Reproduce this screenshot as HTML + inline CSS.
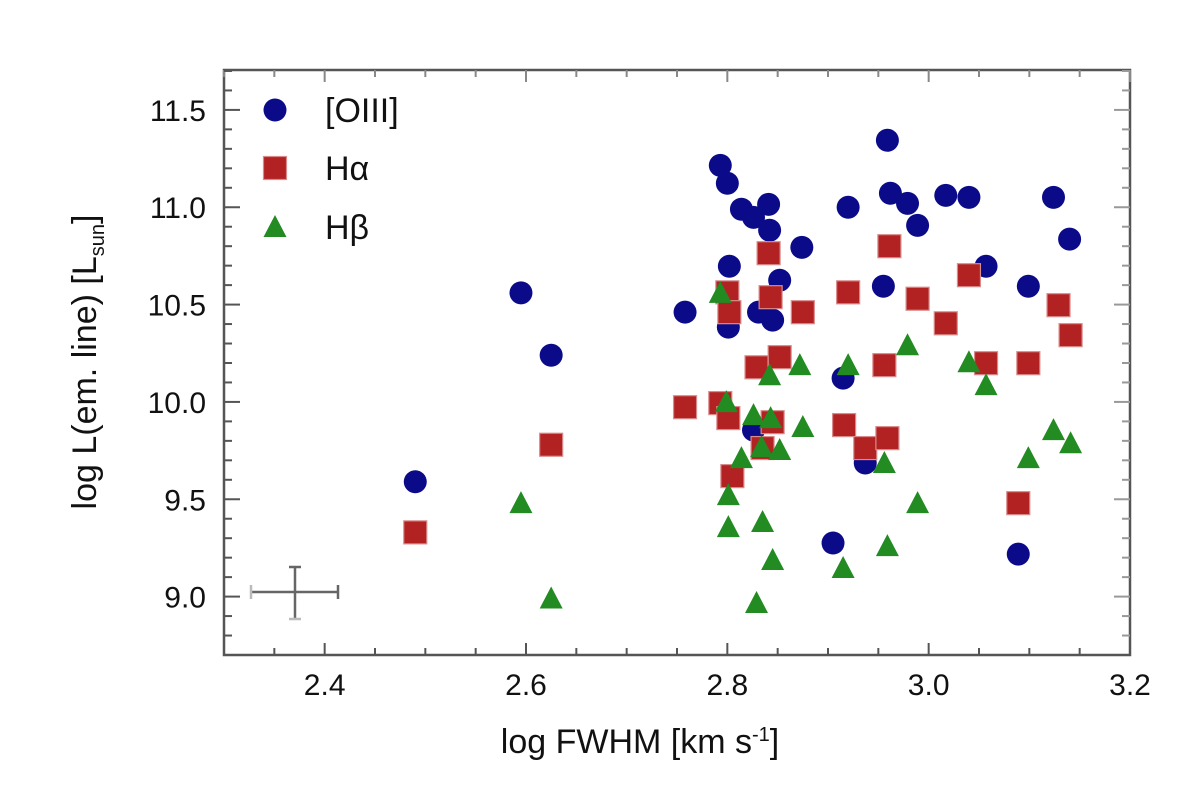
<!DOCTYPE html>
<html><head><meta charset="utf-8"><style>
body{margin:0;background:#fff;}
svg{display:block;font-family:"Liberation Sans",sans-serif;}
</style></head><body>
<svg id="chart" width="1200" height="796" viewBox="0 0 1200 796"></svg>
<script>
const oiiiX=[2.793,2.800,2.814,2.826,2.841,2.842,2.874,2.802,2.852,2.920,2.959,2.962,2.979,2.989,2.758,2.801,2.845,2.831,2.955,3.017,3.040,3.124,3.140,3.057,3.099,3.089,2.915,2.826,2.937,2.905,2.49,2.595,2.625];
const oiiiY=[11.215,11.123,10.990,10.948,11.015,10.882,10.794,10.697,10.625,11.000,11.344,11.072,11.020,10.907,10.461,10.384,10.42,10.461,10.594,11.061,11.051,11.051,10.836,10.697,10.594,9.218,10.122,9.855,9.686,9.275,9.59,10.56,10.24];
const haX=[2.841,2.961,2.800,2.802,2.843,2.875,2.920,2.989,3.017,3.040,3.129,3.141,3.057,3.099,3.089,2.852,2.829,2.956,2.758,2.793,2.801,2.845,2.835,2.916,2.937,2.959,2.805,2.49,2.625];
const haY=[10.764,10.80,10.563,10.461,10.538,10.461,10.563,10.53,10.404,10.651,10.497,10.343,10.199,10.199,9.480,10.230,10.178,10.189,9.973,9.994,9.917,9.896,9.763,9.881,9.763,9.814,9.619,9.33,9.78];
const hbX=[2.979,2.872,2.842,2.920,2.799,2.826,2.843,2.875,2.834,2.852,2.814,2.956,2.801,2.989,2.801,2.835,2.845,2.915,2.959,2.829,3.124,3.141,3.099,3.057,3.040,2.793,2.595,2.625];
const hbY=[10.291,10.189,10.137,10.189,9.999,9.932,9.917,9.871,9.768,9.753,9.711,9.686,9.521,9.48,9.357,9.383,9.188,9.147,9.259,8.967,9.855,9.788,9.711,10.086,10.204,10.56,9.48,8.99];
const xTicks=[2.4,2.6,2.8,3.0,3.2];
const yTicks=[9.0,9.5,10.0,10.5,11.0,11.5];

const L=224,R=1130,T=70,B=655,X0=2.3,X1=3.2,Y0=8.7,Y1=11.705;
const sx=v=>L+(v-X0)/(X1-X0)*(R-L);
const sy=v=>B-(v-Y0)/(Y1-Y0)*(B-T);
const svg=document.getElementById('chart');
const NS='http://www.w3.org/2000/svg';
function mk(tag,attrs,parent){const e=document.createElementNS(NS,tag);for(const k in attrs)e.setAttribute(k,attrs[k]);(parent||svg).appendChild(e);return e;}

let frame=mk('rect',{x:L,y:T,width:R-L,height:B-T,fill:'none',stroke:'#555','stroke-width':2.5});



for(let v=2.3;v<=3.2001;v+=0.05){
  const x=sx(v);const major=Math.abs((v*10)%2)<0.01||Math.abs((v*10)%2-2)<0.01;
  const len=major?12:7;
  let t=mk('line',{x1:x,x2:x,y1:B,y2:B-len,stroke:'#555','stroke-width':2});
  
  
  let t2=mk('line',{x1:x,x2:x,y1:T,y2:T+len,stroke:'#888','stroke-width':2});
  
  
}
for(let v=8.8;v<=11.7;v+=0.1){
  const y=sy(v);const major=Math.abs(Math.round(v*10)%5)===0;
  const len=major?16:8;
  let t=mk('line',{x1:L,x2:L+len,y1:y,y2:y,stroke:'#555','stroke-width':2});
  
  
  let t2=mk('line',{x1:R,x2:R-len,y1:y,y2:y,stroke:'#999','stroke-width':2});
  
  
}
xTicks.forEach(v=>{
  let t=mk('text',{x:sx(v),y:695,'font-size':30,'text-anchor':'middle',fill:'#111'});
  t.textContent=v.toFixed(1);
  
  
});
yTicks.forEach(v=>{
  let t=mk('text',{x:206,y:sy(v)+11,'font-size':30,'text-anchor':'end',fill:'#111'});
  t.textContent=v.toFixed(1);
  
  
});

let xt=mk('text',{x:640,y:753,'font-size':34,'text-anchor':'middle',fill:'#111'});
xt.innerHTML='log FWHM [km s<tspan font-size="20" dy="-12">-1</tspan><tspan dy="12">]</tspan>';


let yt=mk('text',{x:0,y:0,'font-size':34,'text-anchor':'middle',fill:'#111',transform:'translate(96,362) rotate(-90)'});
yt.innerHTML='log L(em. line) [L<tspan font-size="20" dy="8">sun</tspan><tspan dy="-8">]</tspan>';



const eb=mk('g',{stroke:'#666','stroke-width':2.5});


mk('line',{x1:251,x2:338,y1:592,y2:592},eb);
mk('line',{x1:295,x2:295,y1:567,y2:619},eb);
mk('line',{x1:251,x2:251,y1:585,y2:599,stroke:'#bbb'},eb);
mk('line',{x1:338,x2:338,y1:585,y2:599},eb);
mk('line',{x1:289,x2:301,y1:567,y2:567},eb);
mk('line',{x1:289,x2:301,y1:619,y2:619,stroke:'#bbb'},eb);

const NAVY='#0b0b8a',RED='#b22222',GREEN='#228b22';
function circle(cx,cy,g){return mk('circle',{cx:cx,cy:cy,r:11.5,fill:NAVY},g);}
function square(cx,cy,g){return mk('rect',{x:cx-11.5,y:cy-11.5,width:23,height:23,fill:RED,stroke:'#d98b8b','stroke-width':1.2},g);}
function tri(cx,cy,g){return mk('polygon',{points:`${cx},${cy-12} ${cx-11.5},${cy+10} ${cx+11.5},${cy+10}`,fill:GREEN},g);}

const gO=mk('g',{});
const gH=mk('g',{});
const gB=mk('g',{});
oiiiX.forEach((v,i)=>{const e=circle(sx(v),sy(oiiiY[i]),gO);
  
  });
haX.forEach((v,i)=>{const e=square(sx(v),sy(haY[i]),gH);
  
  });
hbX.forEach((v,i)=>{const e=tri(sx(v),sy(hbY[i]),gB);
  
  });

const lg=mk('g',{});
const entries=[['[OIII]',circle,110],['Hα',square,168],['Hβ',tri,227]];
entries.forEach(([label,fn,y])=>{
  const g=mk('g',{},lg);
  
  
  fn(275,y,g);
  const t=mk('text',{x:325,y:y+12,'font-size':34,fill:'#111'},g);
  t.textContent=label;
});
</script>
</body></html>
